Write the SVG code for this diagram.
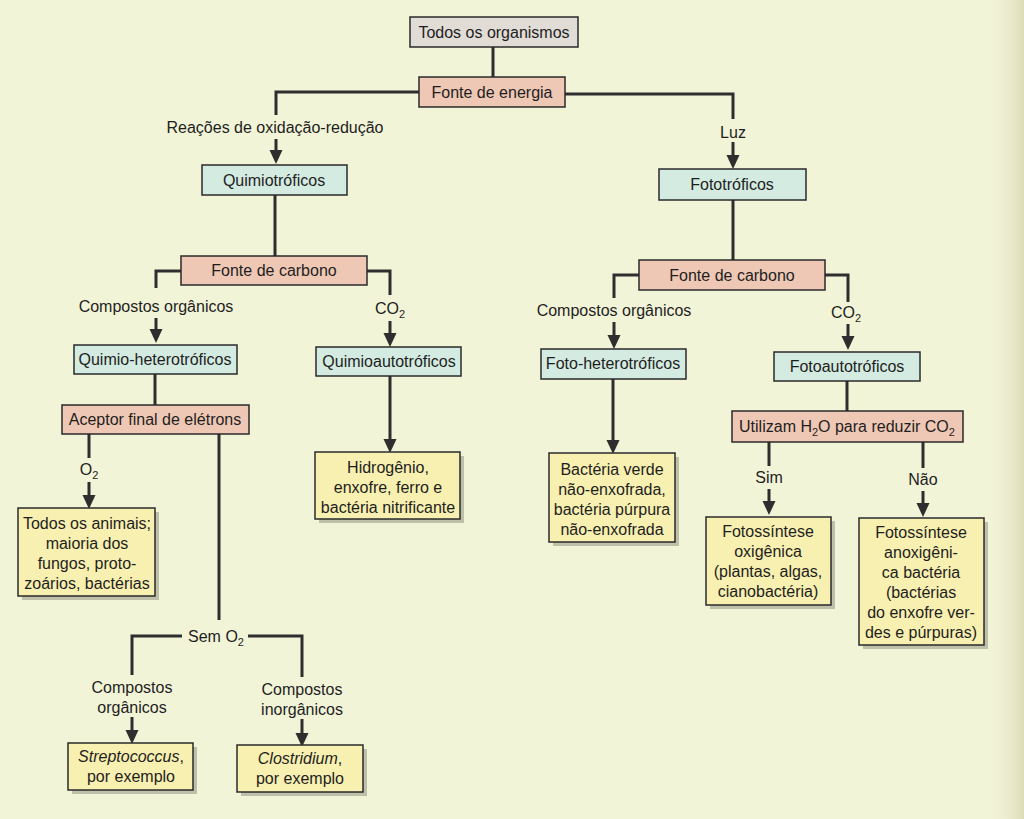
<svg xmlns="http://www.w3.org/2000/svg" width="1024" height="819" viewBox="0 0 1024 819">
<style>
text{font-family:"Liberation Sans",Arial,sans-serif;font-size:16px;fill:#1e1e1e;text-anchor:middle}
.b{stroke:#2a2a2a;stroke-width:1.5}
.g{fill:#e1dcd6}
.p{fill:#efc8b5}
.c{fill:#d4ebe1}
.y{fill:#f8f0b0}
.sh{fill:#8c8c7c;opacity:0.5}
.ln{fill:none;stroke:#2e2e2e;stroke-width:3}
.ar{marker-end:url(#ah)}
.s{font-size:11px}
</style>
<defs>
<marker id="ah" markerUnits="userSpaceOnUse" markerWidth="14" markerHeight="14" refX="5" refY="6.5" orient="auto">
<path d="M0,0 L14,6.5 L0,13 z" fill="#2e2e2e"/>
</marker>
<linearGradient id="edge" x1="0" y1="0" x2="1" y2="0">
<stop offset="0" stop-color="#f2f4d8" stop-opacity="0"/>
<stop offset="1" stop-color="#dedcb8"/>
</linearGradient>
</defs>
<rect width="1024" height="819" fill="#f2f4d8"/>
<rect x="985" y="0" width="39" height="819" fill="url(#edge)"/>

<g id="connectors">
<path class="ln" d="M493,47 V77"/>
<path class="ln" d="M419,92 H276 V115"/>
<path class="ln ar" d="M276,139 V155"/>
<path class="ln" d="M565,94 H733 V119"/>
<path class="ln ar" d="M733,142 V160"/>
<path class="ln" d="M275,195 V256"/>
<path class="ln" d="M733,200 V260"/>
<path class="ln" d="M181,271 H156 V288"/>
<path class="ln ar" d="M156,318 V334"/>
<path class="ln" d="M367,271 H390 V295"/>
<path class="ln ar" d="M390,321 V338"/>
<path class="ln ar" d="M390,376 V444"/>
<path class="ln" d="M155,374 V405"/>
<path class="ln" d="M89,434 V458"/>
<path class="ln ar" d="M89,482 V500"/>
<path class="ln" d="M219,434 V620"/>
<path class="ln" d="M182,636 H132 V675"/>
<path class="ln" d="M248,636 H302 V677"/>
<path class="ln ar" d="M132,717 V735"/>
<path class="ln ar" d="M302,719 V738"/>
<path class="ln" d="M639,275 H614 V298"/>
<path class="ln ar" d="M614,322 V340"/>
<path class="ln ar" d="M613,379 V445"/>
<path class="ln" d="M825,275 H848 V302"/>
<path class="ln ar" d="M848,324 V341"/>
<path class="ln" d="M847,381 V411"/>
<path class="ln" d="M769,442 V466"/>
<path class="ln ar" d="M769,489 V506"/>
<path class="ln" d="M923,442 V468"/>
<path class="ln ar" d="M923,491 V508"/>
</g>

<g id="labels">
<text x="275" y="133">Reações de oxidação-redução</text>
<text x="733" y="138">Luz</text>
<text x="156" y="312">Compostos orgânicos</text>
<text x="390" y="314">CO<tspan class="s" dy="4">2</tspan></text>
<text x="89" y="475">O<tspan class="s" dy="4">2</tspan></text>
<text x="216" y="642">Sem O<tspan class="s" dy="4">2</tspan></text>
<text x="132" y="693">Compostos</text>
<text x="132" y="713">orgânicos</text>
<text x="302" y="695">Compostos</text>
<text x="302" y="715">inorgânicos</text>
<text x="614" y="316">Compostos orgânicos</text>
<text x="846" y="318">CO<tspan class="s" dy="4">2</tspan></text>
<text x="769" y="483">Sim</text>
<text x="923" y="485">Não</text>
</g>

<g id="n-todos"><rect class="b g" x="410" y="17" width="168" height="30"/><text x="494" y="38">Todos os organismos</text></g>
<g id="n-energia"><rect class="b p" x="419" y="77" width="146" height="30"/><text x="492" y="98">Fonte de energia</text></g>
<g id="n-quimiotroficos"><rect class="b c" x="202" y="165" width="145" height="30"/><text x="274" y="186">Quimiotróficos</text></g>
<g id="n-fototroficos"><rect class="b c" x="659" y="169" width="147" height="31"/><text x="732" y="190">Fototróficos</text></g>
<g id="n-carbono-q"><rect class="b p" x="181" y="256" width="186" height="29"/><text x="274" y="276">Fonte de carbono</text></g>
<g id="n-carbono-f"><rect class="b p" x="639" y="260" width="186" height="30"/><text x="732" y="281">Fonte de carbono</text></g>
<g id="n-qhet"><rect class="b c" x="74" y="345" width="163" height="29"/><text x="155" y="365">Quimio-heterotróficos</text></g>
<g id="n-qaut"><rect class="b c" x="316" y="347" width="145" height="29"/><text x="389" y="367">Quimioautotróficos</text></g>
<g id="n-aceptor"><rect class="b p" x="62" y="405" width="187" height="29"/><text x="155" y="425">Aceptor final de elétrons</text></g>
<g id="n-hidrogenio"><rect class="sh" x="319" y="456" width="145" height="67"/><rect class="b y" x="315" y="452" width="145" height="67"/><text x="388" y="473">Hidrogênio,</text><text x="388" y="493">enxofre, ferro e</text><text x="388" y="513">bactéria nitrificante</text></g>
<g id="n-animais"><rect class="sh" x="22" y="512" width="137" height="88"/><rect class="b y" x="18" y="508" width="137" height="88"/><text x="87" y="529">Todos os animais;</text><text x="87" y="549">maioria dos</text><text x="87" y="569">fungos, proto-</text><text x="87" y="589">zoários, bactérias</text></g>
<g id="n-strep"><rect class="sh" x="72" y="747" width="125" height="47"/><rect class="b y" x="68" y="743" width="125" height="47"/><text x="131" y="762"><tspan font-style="italic">Streptococcus</tspan>,</text><text x="131" y="782">por exemplo</text></g>
<g id="n-clost"><rect class="sh" x="241" y="749" width="126" height="47"/><rect class="b y" x="237" y="745" width="126" height="47"/><text x="300" y="764"><tspan font-style="italic">Clostridium</tspan>,</text><text x="300" y="784">por exemplo</text></g>
<g id="n-fhet"><rect class="b c" x="541" y="349" width="145" height="30"/><text x="613" y="369">Foto-heterotróficos</text></g>
<g id="n-faut"><rect class="b c" x="774" y="352" width="146" height="29"/><text x="847" y="372">Fotoautotróficos</text></g>
<g id="n-verde"><rect class="sh" x="553" y="457" width="126" height="89"/><rect class="b y" x="549" y="453" width="126" height="89"/><text x="612" y="475">Bactéria verde</text><text x="612" y="495">não-enxofrada,</text><text x="612" y="515">bactéria púrpura</text><text x="612" y="535">não-enxofrada</text></g>
<g id="n-utilizam"><rect class="b p" x="732" y="411" width="231" height="31"/><text x="847" y="432">Utilizam H<tspan class="s" dy="4">2</tspan><tspan dy="-4">O para reduzir CO</tspan><tspan class="s" dy="4">2</tspan></text></g>
<g id="n-oxi"><rect class="sh" x="710" y="521" width="125" height="88"/><rect class="b y" x="706" y="517" width="125" height="88"/><text x="768" y="537">Fotossíntese</text><text x="768" y="557">oxigênica</text><text x="768" y="577">(plantas, algas,</text><text x="768" y="597">cianobactéria)</text></g>
<g id="n-anoxi"><rect class="sh" x="863" y="522" width="125" height="127"/><rect class="b y" x="859" y="518" width="125" height="127"/><text x="921" y="538">Fotossíntese</text><text x="921" y="558">anoxigêni-</text><text x="921" y="578">ca bactéria</text><text x="921" y="598">(bactérias</text><text x="921" y="618">do enxofre ver-</text><text x="921" y="638">des e púrpuras)</text></g>
</svg>
